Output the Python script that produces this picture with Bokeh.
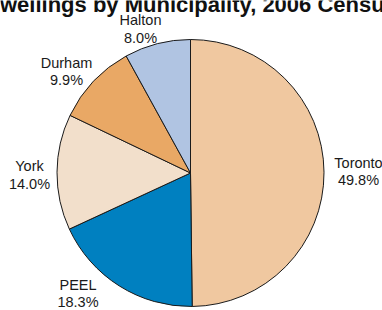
import math
from bokeh.plotting import figure
from bokeh.models import ColumnDataSource, Range1d
from bokeh.core.properties import value
from bokeh.embed import file_html
from bokeh.resources import INLINE

# ---- data ----
municipalities = ["Toronto", "PEEL", "York", "Durham", "Halton"]
shares = [49.8, 18.3, 14.0, 9.9, 8.0]
title_text = "Dwellings by Municipality, 2006 Census"

# ---- styles / layout ----
colors = ["#F0C8A0", "#0080C0", "#F2DFCB", "#E9A865", "#B0C4E2"]
W, H = 382, 310
cx, cy, r = 190, H - 172.5, 133.5
# label block centres (x) and name baselines (screen y)
label_x = [358, 77.5, 29, 66, 140]
label_y = [166.5, 288.5, 170, 66.5, 24.3]
line_gap = 17.8
font = "Liberation Sans"
lab_shift = 4.5     # svg baseline correction
title_shift = 6.5

total = sum(shares)
starts, ends = [], []
acc = 0.0
for s in shares:
    a0 = math.pi / 2 - 2 * math.pi * acc / total
    acc += s
    a1 = math.pi / 2 - 2 * math.pi * acc / total
    starts.append(a0)
    ends.append(a1)

src = ColumnDataSource(dict(
    x=[cx] * len(shares), y=[cy] * len(shares),
    start=starts, end=ends, color=colors, name=municipalities,
))

p = figure(width=W, height=H, output_backend="svg", toolbar_location=None,
           x_range=Range1d(0, W), y_range=Range1d(0, H),
           min_border=0, outline_line_color=None,
           styles={"position": "absolute", "left": "0px", "top": "0px"})
p.axis.visible = False
p.grid.visible = False
p.background_fill_color = "white"

p.wedge(x="x", y="y", radius=r, start_angle="start", end_angle="end",
        direction="clock", fill_color="color", line_color="#1a1a1a",
        line_width=1, source=src)

pct = ["%.1f%%" % s for s in shares]
lsrc = ColumnDataSource(dict(
    x=label_x, y=[H - v + lab_shift for v in label_y], text=municipalities))
psrc = ColumnDataSource(dict(
    x=label_x, y=[H - v - line_gap + lab_shift for v in label_y], text=pct))
for s in (lsrc, psrc):
    p.text(x="x", y="y", text="text", source=s, text_align="center",
           text_baseline="alphabetic", text_font=value(font),
           text_font_size="14.5px", text_color="#1a1a1a")

p.text(x=[190], y=[H - 10 + title_shift], text=[title_text], text_align="center",
       text_baseline="alphabetic", text_font=value(font),
       text_font_size="22px", text_font_style="bold", text_color="#111111")

open("out.html", "w").write(file_html(p, INLINE))
